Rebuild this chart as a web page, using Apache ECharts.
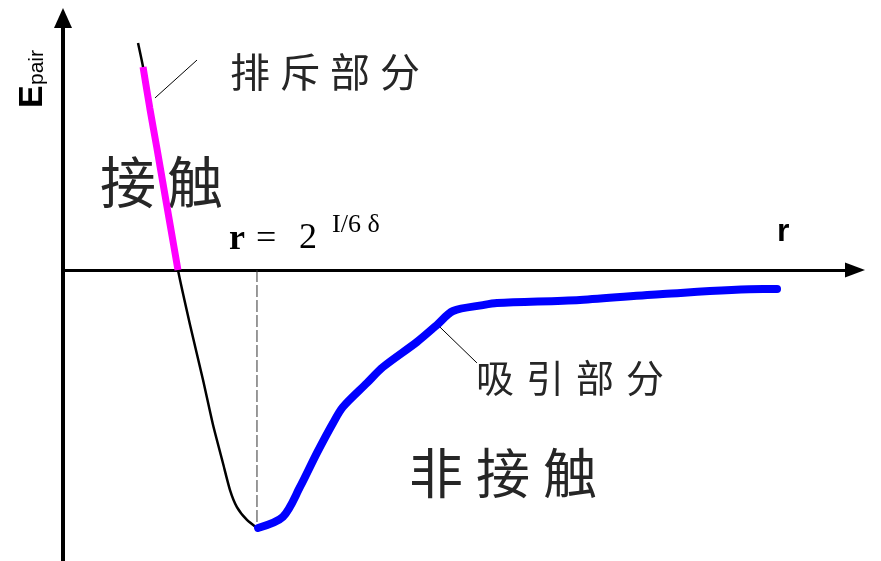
<!DOCTYPE html>
<html>

<head>
  <meta charset="utf-8">
  <script src="https://cdn.jsdelivr.net/npm/echarts@6.0.0/dist/echarts.min.js"></script>
  <style>
    html,
    body {
      margin: 0;
      background: #fff;
    }

    #chart {
      width: 881px;
      height: 561px;
    }
  </style>
</head>

<body>
  <div id="chart"></div>
  <script>
    // 坐标范围 (r, Epair)
    const rRange = [0, 4.581]
    const eRange = [-1.128, 0.977]
    // 势能曲线 (黑色细线)
    const curveR = [0.434, 0.463, 0.502, 0.543, 0.578, 0.619, 0.665, 0.735, 0.810, 0.868, 0.925, 0.966, 1.006, 1.064, 1.122]
    const curveE = [0.880, 0.787, 0.628, 0.473, 0.337, 0.178, 0, -0.213, -0.426, -0.601, -0.748, -0.853, -0.919, -0.969, -1.0]
    // 排斥部分 (品红)
    const repR = [0.463, 0.502, 0.543, 0.578, 0.619, 0.665]
    const repE = [0.787, 0.628, 0.473, 0.337, 0.178, 0]
    // 吸引部分 (蓝色)
    const attR = [1.128, 1.272, 1.371, 1.469, 1.562, 1.619, 1.758, 1.851, 2.047, 2.163, 2.256, 2.429, 2.510, 2.990, 3.470, 4.049, 4.130]
    const attE = [-1.0, -0.957, -0.841, -0.709, -0.593, -0.531, -0.438, -0.376, -0.279, -0.213, -0.159, -0.136, -0.128, -0.116, -0.093, -0.074, -0.074]
    // r = 2^(1/6)δ 处的虚线
    const minR = 1.122
    const minE = -1.0
    // 引线
    const leaderRep = [[0.532, 0.667], [0.775, 0.814]]
    const leaderAtt = [[2.180, -0.221], [2.394, -0.360]]

    const zip = (xs, ys) => xs.map((x, i) => [x, ys[i]])

    const cjk = '"Noto Sans CJK SC", sans-serif'
    const serif = '"Liberation Serif", "Times New Roman", serif'
    const sans = '"Liberation Sans", Arial, sans-serif'

    // 逐字放置中文，模拟字间距
    function spaced(str, x0, y, size, step) {
      return str.split('').map((ch, i) => ({
        type: 'text',
        x: x0 + i * step,
        y: y,
        style: {
          text: ch,
          font: size + 'px ' + cjk,
          fill: '#262626',
          align: 'center',
          verticalAlign: 'middle'
        }
      }))
    }

    function txt(s, x, y, font, align) {
      return {
        type: 'text',
        x: x,
        y: y,
        style: { text: s, font: font, fill: '#000', align: align || 'left', verticalAlign: 'middle' }
      }
    }

    const graphics = [].concat(
      spaced('排斥部分', 250, 72, 40, 50),
      spaced('接触', 128, 182, 56, 67),
      spaced('非接触', 436, 473, 54, 67),
      spaced('吸引部分', 495, 378, 38, 50),
      [
        txt('r', 229, 240, 'bold 36px ' + serif),
        txt('=', 256, 240, '36px ' + serif),
        txt('2', 299, 239, '36px ' + serif),
        txt('I/6 δ', 332, 225, '26px ' + serif),
        txt('r', 777, 232, 'bold 32px ' + sans),
        {
          type: 'group',
          x: 33,
          y: 108,
          rotation: Math.PI / 2,
          children: [
            txt('E', 0, 0, 'bold 34px ' + sans),
            { type: 'text', x: 23, y: 4, style: { text: 'pair', font: '21px ' + sans, fill: '#000', align: 'left', verticalAlign: 'middle' } }
          ]
        }
      ]
    )

    const option = {
      animation: false,
      grid: { left: 63, right: 26, top: 18, bottom: 0, containLabel: false },
      xAxis: {
        type: 'value',
        min: rRange[0],
        max: rRange[1],
        axisLine: {
          onZero: true,
          symbol: ['none', 'triangle'],
          symbolSize: [15, 20],
          lineStyle: { color: '#000', width: 3 }
        },
        axisTick: { show: false },
        axisLabel: { show: false },
        splitLine: { show: false }
      },
      yAxis: {
        type: 'value',
        min: eRange[0],
        max: eRange[1],
        axisLine: {
          show: true,
          onZero: false,
          symbol: ['none', 'triangle'],
          symbolSize: [18, 20],
          lineStyle: { color: '#000', width: 4 }
        },
        axisTick: { show: false },
        axisLabel: { show: false },
        splitLine: { show: false }
      },
      series: [{
          type: 'line',
          data: [[minR, 0], [minR, minE]],
          symbol: 'none',
          lineStyle: { color: '#333', width: 1, type: [12, 3] },
          z: 1
        },
        {
          type: 'line',
          data: zip(curveR, curveE),
          smooth: 0.2,
          symbol: 'none',
          lineStyle: { color: '#000', width: 2.5 },
          z: 2
        },
        {
          type: 'line',
          data: zip(repR, repE),
          smooth: 0.3,
          symbol: 'none',
          lineStyle: { color: '#ff00ff', width: 7, cap: 'butt' },
          z: 3
        },
        {
          type: 'line',
          data: zip(attR, attE),
          smooth: 0.3,
          symbol: 'none',
          lineStyle: { color: '#0000ff', width: 8, cap: 'round' },
          z: 3
        },
        {
          type: 'line',
          data: leaderRep,
          symbol: 'none',
          lineStyle: { color: '#000', width: 1 },
          z: 4
        },
        {
          type: 'line',
          data: leaderAtt,
          symbol: 'none',
          lineStyle: { color: '#000', width: 1 },
          z: 4
        }
      ],
      graphic: graphics
    }

    const chart = echarts.init(document.getElementById('chart'))
    chart.setOption(option)
  </script>
</body>

</html>
